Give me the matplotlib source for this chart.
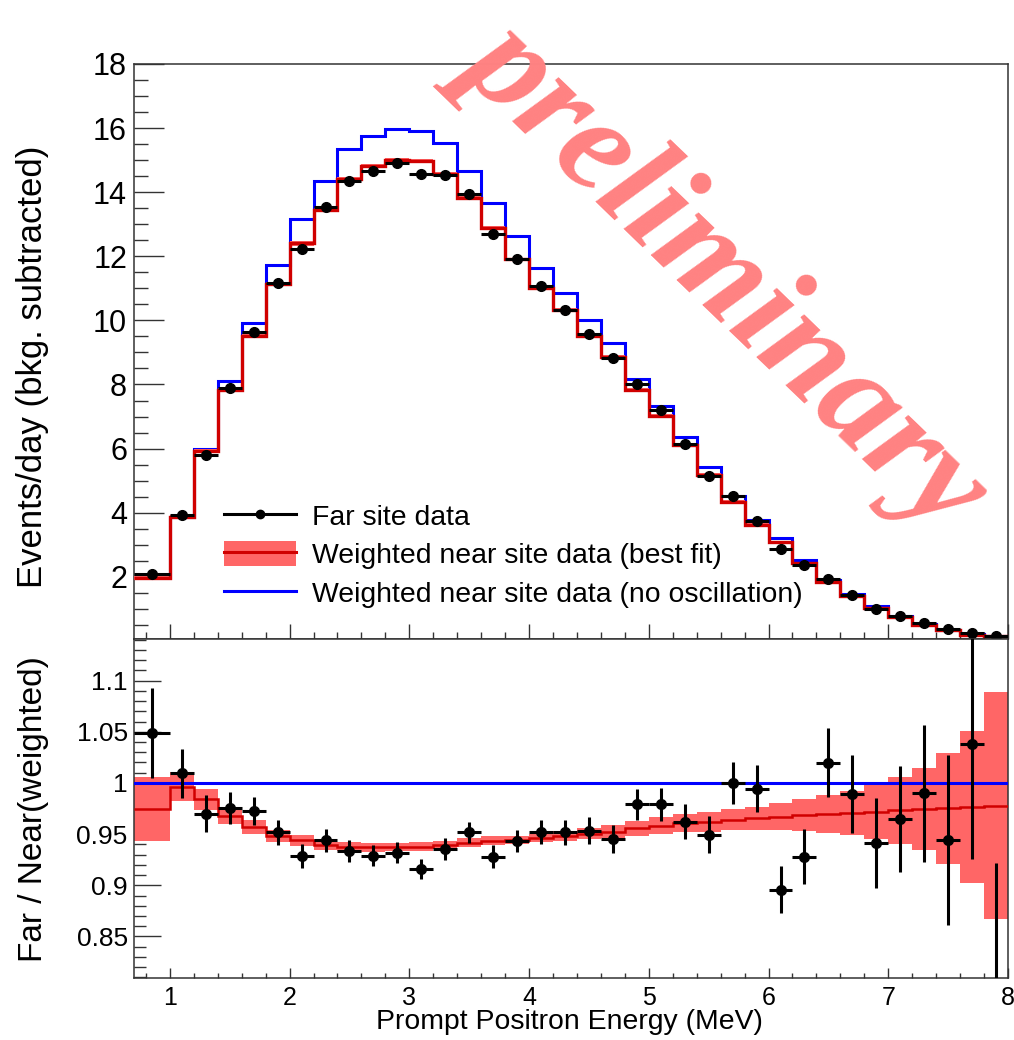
import matplotlib
matplotlib.use("Agg")
import matplotlib.pyplot as plt
from matplotlib.lines import Line2D
from matplotlib.patches import Patch
from matplotlib.ticker import MultipleLocator
import numpy as np

plt.rcParams["font.family"] = ["Liberation Sans", "DejaVu Sans"]

# bins: first one 0.7-1.0, then 0.2 MeV up to 8.0
edges = np.r_[0.7, np.round(np.arange(1.0, 8.01, 0.2), 1)]
centers = 0.5 * (edges[:-1] + edges[1:])
halfw = 0.5 * np.diff(edges)

# top panel: events/day
far_data = [2.09, 3.92, 5.81, 7.89, 9.64, 11.16, 12.22, 13.53, 14.34, 14.65,
            14.90, 14.58, 14.54, 13.93, 12.68, 11.91, 11.07, 10.33, 9.57, 8.83,
            8.02, 7.19, 6.13, 5.14, 4.52, 3.73, 2.87, 2.37, 1.92, 1.43,
            1.00, 0.79, 0.55, 0.36, 0.25, 0.15]
best_fit = [1.95, 3.86, 5.92, 7.84, 9.51, 11.13, 12.40, 13.45, 14.41, 14.81,
            15.01, 14.97, 14.57, 13.81, 12.89, 11.91, 11.01, 10.32, 9.52, 8.86,
            7.84, 7.03, 6.11, 5.18, 4.34, 3.62, 3.08, 2.43, 1.83, 1.41,
            1.03, 0.75, 0.51, 0.33, 0.19, 0.14]
no_osc = [2.00, 3.87, 6.00, 8.11, 9.93, 11.74, 13.16, 14.35, 15.34, 15.74,
          15.98, 15.91, 15.52, 14.66, 13.65, 12.63, 11.62, 10.86, 10.01, 9.30,
          8.18, 7.33, 6.37, 5.42, 4.52, 3.78, 3.20, 2.52, 1.89, 1.47,
          1.09, 0.79, 0.54, 0.35, 0.20, 0.15]

# bottom panel: far / near(weighted)
ratio = [1.0486, 1.0095, 0.9698, 0.9753, 0.9727, 0.9516, 0.9290, 0.9438, 0.9337, 0.9288,
         0.9320, 0.9161, 0.9356, 0.9516, 0.9281, 0.9434, 0.9519, 0.9516, 0.9535, 0.9454,
         0.9792, 0.9792, 0.9623, 0.9493, 0.9997, 0.9942, 0.8956, 0.9281, 1.0199, 0.9890,
         0.9411, 0.9649, 0.9900, 0.9444, 1.0378, 0.7700]
ratio_err = [0.044, 0.024, 0.018, 0.0155, 0.014, 0.0122, 0.0117, 0.011, 0.0106, 0.0104,
             0.0105, 0.0100, 0.0105, 0.0106, 0.0114, 0.011, 0.012, 0.0125, 0.013, 0.0135,
             0.015, 0.016, 0.017, 0.018, 0.0205, 0.023, 0.023, 0.027, 0.034, 0.038,
             0.044, 0.052, 0.067, 0.083, 0.112, 0.152]
fit_ratio = [0.9747, 0.9965, 0.9841, 0.9678, 0.9574, 0.9483, 0.9438, 0.9395, 0.9379, 0.9372,
             0.9372, 0.9379, 0.9395, 0.9418, 0.9434, 0.9440, 0.9460, 0.9483, 0.9503, 0.9525,
             0.9558, 0.9584, 0.9607, 0.9623, 0.9640, 0.9656, 0.9672, 0.9688, 0.9698, 0.9711,
             0.9721, 0.9731, 0.9744, 0.9753, 0.9763, 0.9776]
fit_band = [0.031, 0.0138, 0.0101, 0.0075, 0.0068, 0.0062, 0.0057, 0.0049, 0.0045, 0.0042,
            0.0041, 0.0041, 0.0042, 0.0043, 0.0044, 0.0040, 0.0041, 0.0047, 0.0054, 0.0062,
            0.0073, 0.0081, 0.0086, 0.0098, 0.0104, 0.0114, 0.0130, 0.0155, 0.0186, 0.0215,
            0.0267, 0.0324, 0.0402, 0.054, 0.074, 0.111]

RED = "#d00000"
BAND = "#ff6666"
BLUE = "#0000ff"
FRAME = "#333333"

fig = plt.figure(figsize=(10.14, 10.40), dpi=100)
ax1 = fig.add_axes([0.1321, 0.3856, 0.8620, 0.5529])
ax2 = fig.add_axes([0.1321, 0.0596, 0.8620, 0.3260])

bf = np.array(best_fit)
top_band = np.array(fit_band) * np.array(no_osc)

# ---- top panel
ax1.stairs(no_osc, edges, baseline=None, color=BLUE, lw=2.2, zorder=2)
ax1.stairs(bf + top_band, edges, baseline=bf - top_band, fill=True,
           color=BAND, lw=0, zorder=3)
ax1.stairs(best_fit, edges, baseline=None, color=RED, lw=2.4, zorder=4)
ax1.errorbar(centers, far_data, xerr=halfw, fmt="o", color="black", ms=7,
             elinewidth=2.2, capsize=0, zorder=5)
ax1.set_xlim(0.7, 8.0)
ax1.set_ylim(0.06, 18)
ax1.yaxis.set_minor_locator(MultipleLocator(0.5))
ax1.set_yticks(np.arange(2, 19, 2))
ax1.tick_params(axis="x", labelbottom=False)

h_far = Line2D([], [], color="black", lw=2.2, marker="o", ms=6)
h_fit = (Patch(color=BAND, lw=0), Line2D([], [], color=RED, lw=2.2))
h_nosc = Line2D([], [], color=BLUE, lw=2.2)
ax1.legend([h_far, h_fit, h_nosc],
           ["Far site data", "Weighted near site data (best fit)",
            "Weighted near site data (no oscillation)"],
           loc="upper left", bbox_to_anchor=(0.103, 0.236), frameon=False,
           fontsize=20.4, numpoints=1, handlelength=2.55, handleheight=0.95,
           handletextpad=0.55, labelspacing=0.36, borderpad=0, borderaxespad=0)

# ---- bottom panel
fr = np.array(fit_ratio)
fb = np.array(fit_band)
ax2.stairs(fr + fb, edges, baseline=fr - fb, fill=True, color=BAND, lw=0, zorder=2)
ax2.stairs(fit_ratio, edges, baseline=None, color=RED, lw=1.8, zorder=3)
ax2.axhline(1.0, color=BLUE, lw=2.2, zorder=4)
ax2.errorbar(centers, ratio, xerr=halfw, yerr=ratio_err, fmt="o", color="black",
             ms=7, elinewidth=2.2, capsize=0, zorder=5)
ax2.set_xlim(0.7, 8.0)
ax2.set_ylim(0.8094, 1.1407)
ax2.set_yticks([0.85, 0.9, 0.95, 1.0, 1.05, 1.1])
ax2.set_yticklabels(["0.85", "0.9", "0.95", "1", "1.05", "1.1"])
ax2.yaxis.set_minor_locator(MultipleLocator(0.01))

for ax in (ax1, ax2):
    ax.xaxis.set_major_locator(MultipleLocator(1))
    ax.xaxis.set_minor_locator(MultipleLocator(0.2))
    for s in ax.spines.values():
        s.set_color(FRAME)
        s.set_linewidth(1.1)
    ax.tick_params(which="both", direction="in", top=False, right=False,
                   color=FRAME, width=1.0)

ax1.tick_params(axis="y", which="major", length=21.5, labelsize=22, pad=5)
ax1.tick_params(axis="y", which="minor", length=10)
ax1.tick_params(axis="x", which="major", length=10.8)
ax1.tick_params(axis="x", which="minor", length=5.4)
ax2.tick_params(axis="y", which="major", length=19.4, labelsize=19, pad=4.5)
ax2.tick_params(axis="y", which="minor", length=8.6)
ax2.tick_params(axis="x", which="major", length=7.2, labelsize=18, pad=6)
ax2.tick_params(axis="x", which="minor", length=3.8)

fig.text(0.0325, 0.647, "Events/day (bkg. subtracted)", rotation=90,
         ha="center", va="center", fontsize=25)
fig.text(0.0335, 0.222, "Far / Near(weighted)", rotation=90,
         ha="center", va="center", fontsize=24)
fig.text(0.562, 0.017, "Prompt Positron Energy (MeV)", ha="center",
         va="center", fontsize=20.4)

fig.text(0.717, 0.737, "preliminary", rotation=-44, rotation_mode="anchor",
         ha="center", va="center", fontsize=100, color="#ff8282",
         family="Liberation Serif", style="italic", weight="bold", zorder=10)

fig.savefig("out.png", dpi=100, facecolor="white")
